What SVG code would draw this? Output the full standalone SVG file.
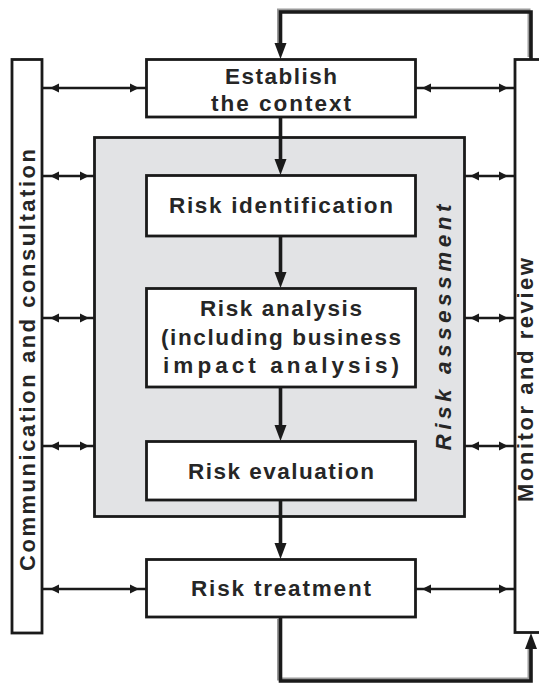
<svg xmlns="http://www.w3.org/2000/svg" xmlns:xlink="http://www.w3.org/1999/xlink" width="539" height="684" viewBox="0 0 539 684">
<style>
.box{fill:#fff;stroke:#1a1a1a;stroke-width:2.8}
.grey{fill:#e2e3e5;stroke:#1a1a1a;stroke-width:2.8}
.lbl{font-family:"Liberation Sans",Arial,sans-serif;font-weight:bold;font-size:22.5px;fill:#262626;text-anchor:middle}
.vlbl{font-family:"Liberation Sans",Arial,sans-serif;font-weight:bold;font-size:22px;fill:#262626;text-anchor:middle}
.ital{font-style:italic}
.thick{fill:none;stroke:#1a1a1a;stroke-width:3.6}
.shadow{fill:none;stroke:#9a9a9a;stroke-width:3}
.thin{fill:none;stroke:#1a1a1a;stroke-width:2.4}
.head{fill:#1a1a1a}
</style>
<defs>
<path id="hd" d="M-6,-16 L6,-16 L0,0 Z"/>
<path id="hu" d="M-6,16 L6,16 L0,0 Z"/>
<path id="hl" d="M0,0 L9,-4.5 L9,4.5 Z"/>
<path id="hr" d="M0,0 L-9,-4.5 L-9,4.5 Z"/>
</defs>
<rect width="539" height="684" fill="#fff"/>

<g id="communication">
<rect class="box" x="12" y="59.5" width="30" height="573.5"/>
<text class="vlbl" transform="translate(35,360) rotate(-90)" textLength="422" lengthAdjust="spacing">Communication and consultation</text>
</g>

<g id="monitor">
<rect class="box" x="515" y="59.5" width="40" height="573"/>
<text class="vlbl" transform="translate(533,380) rotate(-90)" textLength="244" lengthAdjust="spacing">Monitor and review</text>
</g>

<g id="risk-assessment">
<rect class="grey" x="94.5" y="137.5" width="370" height="379"/>
<text class="lbl ital" transform="translate(451,327.5) rotate(-90)" textLength="246" lengthAdjust="spacing">Risk assessment</text>
</g>

<g id="establish">
<rect class="box" x="146.5" y="59.5" width="269" height="57.5"/>
<text class="lbl" x="281" y="84" textLength="112" lengthAdjust="spacing">Establish</text>
<text class="lbl" x="281" y="111" textLength="140" lengthAdjust="spacing">the context</text>
</g>

<g id="identification">
<rect class="box" x="146.5" y="175.5" width="269" height="60.5"/>
<text class="lbl" x="281" y="213" textLength="224" lengthAdjust="spacing">Risk identification</text>
</g>

<g id="analysis">
<rect class="box" x="146.5" y="288.5" width="269" height="98.5"/>
<text class="lbl" x="281" y="316" textLength="162" lengthAdjust="spacing">Risk analysis</text>
<text class="lbl" x="281" y="345" textLength="240" lengthAdjust="spacing">(including business</text>
<text class="lbl" x="281" y="373" textLength="236" lengthAdjust="spacing">impact analysis)</text>
</g>

<g id="evaluation">
<rect class="box" x="146.5" y="441.5" width="269" height="58.5"/>
<text class="lbl" x="281" y="479" textLength="186" lengthAdjust="spacing">Risk evaluation</text>
</g>

<g id="treatment">
<rect class="box" x="146.5" y="559.5" width="269" height="57.5"/>
<text class="lbl" x="281" y="596" textLength="180" lengthAdjust="spacing">Risk treatment</text>
</g>

<g id="connectors">
<path class="shadow" d="M529,57 V10 H278.5 V46"/>
<path class="thick" d="M531,59 V12 H280.5 V48"/>
<use href="#hd" class="head" x="280.5" y="59"/>
<path class="shadow" d="M278.5,619 V679 H529 V648"/>
<path class="thick" d="M280.5,617 V681 H531 V645"/>
<use href="#hu" class="head" x="531" y="633"/>
<path class="thick" d="M280.5,117 V164"/>
<use href="#hd" class="head" x="280.5" y="175"/>
<path class="thick" d="M280.5,236 V277"/>
<use href="#hd" class="head" x="280.5" y="288"/>
<path class="thick" d="M280.5,387 V430"/>
<use href="#hd" class="head" x="280.5" y="441"/>
<path class="thick" d="M280.5,500 V548"/>
<use href="#hd" class="head" x="280.5" y="559"/>
<path class="thin" d="M42,88 H146"/>
<use href="#hl" class="head" x="50" y="88"/>
<use href="#hr" class="head" x="139" y="88"/>
<path class="thin" d="M416,88 H514"/>
<use href="#hl" class="head" x="422" y="88"/>
<use href="#hr" class="head" x="508" y="88"/>
<path class="thin" d="M42,176 H94"/>
<use href="#hl" class="head" x="50" y="176"/>
<use href="#hr" class="head" x="89" y="176"/>
<path class="thin" d="M465,176 H514"/>
<use href="#hl" class="head" x="470" y="176"/>
<use href="#hr" class="head" x="508" y="176"/>
<path class="thin" d="M42,318 H94"/>
<use href="#hl" class="head" x="50" y="318"/>
<use href="#hr" class="head" x="89" y="318"/>
<path class="thin" d="M465,318 H514"/>
<use href="#hl" class="head" x="470" y="318"/>
<use href="#hr" class="head" x="508" y="318"/>
<path class="thin" d="M42,446 H94"/>
<use href="#hl" class="head" x="50" y="446"/>
<use href="#hr" class="head" x="89" y="446"/>
<path class="thin" d="M465,446 H514"/>
<use href="#hl" class="head" x="470" y="446"/>
<use href="#hr" class="head" x="508" y="446"/>
<path class="thin" d="M42,589 H146"/>
<use href="#hl" class="head" x="50" y="589"/>
<use href="#hr" class="head" x="139" y="589"/>
<path class="thin" d="M416,589 H514"/>
<use href="#hl" class="head" x="422" y="589"/>
<use href="#hr" class="head" x="508" y="589"/>
</g>
</svg>
